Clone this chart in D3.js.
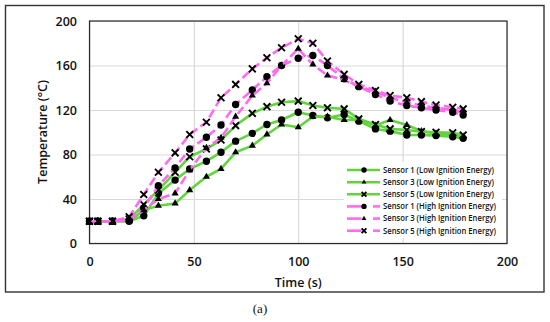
<!DOCTYPE html>
<html>
<head>
<meta charset="utf-8">
<script src="https://cdn.jsdelivr.net/npm/d3@7"></script>
<style>
html,body{margin:0;padding:0;background:#fff;}
svg{display:block;}
</style>
</head>
<body>
<svg id="chart" width="550" height="322"></svg>
<script>
// ---- data ----
const times = [0, 4, 11, 19, 26, 33, 41, 48, 56, 63, 70, 78, 85, 92, 100, 107, 114, 122, 129, 137, 144, 152, 159, 166, 174, 179];
const lowS1 = [20, 20, 20, 20, 25, 45, 57, 67, 74, 82, 92, 99, 107, 111, 118, 115, 113, 116, 110, 103, 101, 97.5, 97.5, 97, 96, 94.5];
const lowS3 = [20, 20, 20, 20, 30, 34, 36, 48, 60, 67, 82, 88, 98, 107, 104.5, 114, 114, 111, 111, 106, 111, 106.5, 101, 99, 98, 96];
const lowS5 = [20, 20, 20, 22, 35, 48, 64, 78, 85, 93, 106, 117, 123, 127, 128, 124, 122, 121, 112, 107, 103, 102, 100.5, 100, 99.5, 97.5];
const highS1 = [20, 20, 20, 21, 32, 52, 68, 85, 95.5, 106.5, 125, 138, 150, 160, 166.5, 169, 160, 148, 141, 134, 128, 124, 122, 120, 118, 115.5];
const highS3 = [20, 20, 20, 22, 30, 40, 45, 66, 86, 95, 114, 133, 144, 160, 175, 161, 151, 147, 141, 136.5, 131, 127, 124, 122, 120, 117.5];
const highS5 = [20, 20, 20, 24, 44, 64, 81.5, 98, 109, 131, 143, 157, 167, 176, 184, 180, 164, 152, 143, 137.5, 133, 131, 127.5, 124.5, 122.5, 121];
const seriesNames = [
  "Sensor 1 (Low Ignition Energy)",
  "Sensor 3 (Low Ignition Energy)",
  "Sensor 5 (Low Ignition Energy)",
  "Sensor 1 (High Ignition Energy)",
  "Sensor 3 (High Ignition Energy)",
  "Sensor 5 (High Ignition Energy)"
];
const xTicks = [0, 50, 100, 150, 200];
const yTicks = [0, 40, 80, 120, 160, 200];
const xTitle = "Time (s)";
const yTitle = "Temperature (°C)";
const caption = "(a)";

// ---- config ----
const GREEN = "#62d43e", PINK = "#ff6bf0";
const series = [
  {name: seriesNames[0], values: lowS1, color: GREEN, dash: null, marker: "circle"},
  {name: seriesNames[1], values: lowS3, color: GREEN, dash: null, marker: "triangle"},
  {name: seriesNames[2], values: lowS5, color: GREEN, dash: null, marker: "x"},
  {name: seriesNames[3], values: highS1, color: PINK, dash: "9,4", marker: "circle"},
  {name: seriesNames[4], values: highS3, color: PINK, dash: "9,4", marker: "triangle"},
  {name: seriesNames[5], values: highS5, color: PINK, dash: "9,4", marker: "x"}
];

const svg = d3.select("#chart");
const L = 89.5, R = 507, T = 21, B = 243.5;
const x = d3.scaleLinear().domain([0, 200]).range([L, R]);
const y = d3.scaleLinear().domain([0, 200]).range([B, T]);
const FONT = "'Open Sans', 'Liberation Sans', sans-serif";

// outer frame
svg.append("rect").attr("x", 5.5).attr("y", 5.5).attr("width", 538.5).attr("height", 286.5)
  .attr("fill", "#fff").attr("stroke", "#333").attr("stroke-width", 1.4);

// grid
const gx = svg.append("g").attr("transform", `translate(0,${B})`)
  .call(d3.axisBottom(x).tickValues(xTicks).tickSize(-(B - T)).tickFormat(""));
gx.select(".domain").remove();
gx.selectAll("line").attr("stroke", "#d9d9d9").attr("stroke-width", 1.2);
const gy = svg.append("g").attr("transform", `translate(${L},0)`)
  .call(d3.axisLeft(y).tickValues(yTicks).tickSize(-(R - L)).tickFormat(""));
gy.select(".domain").remove();
gy.selectAll("line").attr("stroke", "#d9d9d9").attr("stroke-width", 1.2);

// plot border
svg.append("rect").attr("x", L).attr("y", T).attr("width", R - L).attr("height", B - T)
  .attr("fill", "none").attr("stroke", "#2a2a2a").attr("stroke-width", 1.2);

// tick labels
const ax = svg.append("g").attr("transform", `translate(0,${B})`)
  .call(d3.axisBottom(x).tickValues(xTicks).tickSize(0).tickPadding(0).tickFormat(d3.format("d")));
ax.select(".domain").remove();
ax.selectAll("text").attr("y", 22.5).attr("dy", null)
  .style("font-family", FONT).style("font-size", "12.5px").style("font-weight", "600").attr("fill", "#111");
const ay = svg.append("g").attr("transform", `translate(${L},0)`)
  .call(d3.axisLeft(y).tickValues(yTicks).tickSize(0).tickPadding(0).tickFormat(d3.format("d")));
ay.select(".domain").remove();
ay.selectAll("text").attr("x", -12.5).attr("dy", "0.35em")
  .style("font-family", FONT).style("font-size", "12.5px").style("font-weight", "600").attr("fill", "#111");

// axis titles
svg.append("text").attr("x", (L + R) / 2).attr("y", 287).attr("text-anchor", "middle")
  .style("font-family", FONT).style("font-size", "12.5px").style("font-weight", "600").attr("fill", "#111")
  .text(xTitle);
svg.append("text").attr("transform", `translate(47,132) rotate(-90)`).attr("text-anchor", "middle")
  .style("font-family", FONT).style("font-size", "12.5px").style("font-weight", "600").attr("fill", "#111")
  .text(yTitle);

// caption
svg.append("text").attr("x", 260).attr("y", 313).attr("text-anchor", "middle")
  .style("font-family", "'Liberation Serif', 'DejaVu Serif', serif").style("font-size", "13px").attr("fill", "#111")
  .text(caption);

// markers
function markerPath(type, s) {
  if (type === "circle") return d3.symbol(d3.symbolCircle, Math.PI * s * s)();
  if (type === "triangle") return d3.symbol(d3.symbolTriangle, s * s * 1.9)();
  const a = s;
  return `M${-a},${-a}L${a},${a}M${-a},${a}L${a},${-a}`;
}
function drawMarker(g, type, cx, cy, s) {
  const p = g.append("path").attr("transform", `translate(${cx},${cy})`).attr("d", markerPath(type, s));
  if (type === "x") p.attr("fill", "none").attr("stroke", "#000").attr("stroke-width", 1.9);
  else p.attr("fill", "#000");
}

const line = d3.line().x(d => x(d[0])).y(d => y(d[1]));
series.forEach(s => {
  const pts = times.map((t, i) => [t, s.values[i]]);
  const g = svg.append("g");
  g.append("path").attr("d", line(pts)).attr("fill", "none").attr("stroke", s.color)
    .attr("stroke-width", 2.6).attr("stroke-dasharray", s.dash).attr("stroke-linejoin", "round");
  const msize = s.marker === "circle" ? 3.7 : (s.marker === "triangle" ? 3.4 : 3.4);
  pts.forEach(p => drawMarker(g, s.marker, x(p[0]), y(p[1]), msize));
});

// legend
const lg = svg.append("g");
lg.append("rect").attr("x", 344).attr("y", 162).attr("width", 158).attr("height", 76).attr("fill", "#fff");
const rowY = [170, 182.2, 194.3, 206.4, 218.6, 230.7];
series.forEach((s, i) => {
  const yy = rowY[i];
  if (s.dash) {
    lg.append("line").attr("x1", 347).attr("x2", 361.5).attr("y1", yy).attr("y2", yy)
      .attr("stroke", s.color).attr("stroke-width", 2.6);
    lg.append("line").attr("x1", 373).attr("x2", 380).attr("y1", yy).attr("y2", yy)
      .attr("stroke", s.color).attr("stroke-width", 2.6);
  } else {
    lg.append("line").attr("x1", 347).attr("x2", 380).attr("y1", yy).attr("y2", yy)
      .attr("stroke", s.color).attr("stroke-width", 2.6);
  }
  const ms = s.marker === "circle" ? 2.7 : (s.marker === "triangle" ? 2.3 : 2.4);
  drawMarker(lg, s.marker, 364, yy, ms);
  lg.append("text").attr("x", 383).attr("y", yy).attr("dy", "0.35em")
    .attr("textLength", i < 3 ? 111 : 113).attr("lengthAdjust", "spacingAndGlyphs")
    .style("font-family", FONT).style("font-size", "8px").style("font-weight", "600").attr("fill", "#111")
    .text(s.name);
});
</script>
</body>
</html>
